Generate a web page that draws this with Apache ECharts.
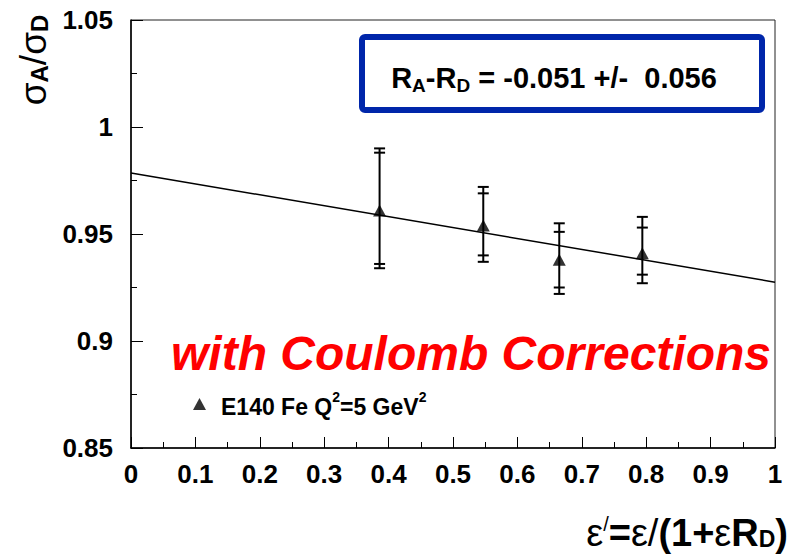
<!DOCTYPE html>
<html>
<head>
<meta charset="utf-8">
<script src="https://cdn.jsdelivr.net/npm/echarts@6/dist/echarts.min.js"></script>
<style>html,body{margin:0;padding:0;background:#fff}#c{width:797px;height:559px}</style>
</head>
<body>
<div id="c"></div>
<script>
// ---- data ----
var xVals = [0.386, 0.547, 0.665, 0.794];
var yVals = [0.961, 0.954, 0.938, 0.941];
var errInnerLow  = [0.936, 0.940, 0.925, 0.931];
var errInnerHigh = [0.988, 0.969, 0.951, 0.953];
var errOuterLow  = [0.934, 0.937, 0.922, 0.927];
var errOuterHigh = [0.990, 0.972, 0.955, 0.958];
var fitX = [0, 1];
var fitY = [0.9785, 0.9275];
var seriesName = 'E140 Fe Q2=5 GeV2';

var FONT = '"Liberation Sans", Arial, Helvetica, sans-serif';

var pts = xVals.map(function (x, i) { return [x, yVals[i]]; });
var errs = xVals.map(function (x, i) {
  return [x, errOuterLow[i], errOuterHigh[i], errInnerLow[i], errInnerHigh[i]];
});
var fit = fitX.map(function (x, i) { return [x, fitY[i]]; });

var chart = echarts.init(document.getElementById('c'), null, { renderer: 'svg' });
chart.setOption({
  animation: false,
  backgroundColor: '#fff',
  grid: { left: 131, right: 22, top: 20, bottom: 111, show: true, borderColor: '#222', borderWidth: 1, backgroundColor: 'transparent' },
  xAxis: {
    type: 'value', min: 0, max: 1, interval: 0.1,
    axisLine: { show: true, onZero: false, lineStyle: { color: '#000', width: 1.5 } },
    axisTick: { show: true, inside: true, length: 11, lineStyle: { color: '#000', width: 1 } },
    minorTick: { show: true, splitNumber: 2, length: 6, lineStyle: { color: '#000', width: 1 } },
    splitLine: { show: false },
    axisLabel: { color: '#000', fontFamily: FONT, fontWeight: 'bold', fontSize: 26, margin: 13,
      formatter: function (v) { return String(+v.toFixed(3)); } }
  },
  yAxis: {
    type: 'value', min: 0.85, max: 1.05, interval: 0.05,
    axisLine: { show: true, onZero: false, lineStyle: { color: '#000', width: 1.5 } },
    axisTick: { show: true, inside: true, length: 12, lineStyle: { color: '#000', width: 1 } },
    minorTick: { show: true, splitNumber: 2, length: 6, lineStyle: { color: '#000', width: 1 } },
    splitLine: { show: false },
    axisLabel: { color: '#000', fontFamily: FONT, fontWeight: 'bold', fontSize: 26, margin: 18,
      formatter: function (v) { return String(+v.toFixed(3)); } }
  },
  legend: {
    show: true, left: 188, top: 385, itemWidth: 13, itemHeight: 12, itemGap: 0,
    data: [{ name: seriesName, icon: 'triangle' }],
    formatter: function () { return '{m|E140 Fe Q}{s|2}{m|=5 GeV}{s|2}'; },
    textStyle: {
      color: '#000', padding: [0, 0, 0, 10],
      rich: {
        m: { fontFamily: FONT, fontWeight: 'bold', fontSize: 23, lineHeight: 28, verticalAlign: 'bottom', color: '#000' },
        s: { fontFamily: FONT, fontWeight: 'bold', fontSize: 14, lineHeight: 14, verticalAlign: 'top', color: '#000' }
      }
    }
  },
  series: [
    {
      type: 'line', data: fit, symbol: 'none', silent: true,
      lineStyle: { color: '#000', width: 1.5 }, z: 2
    },
    {
      type: 'custom', data: errs, silent: true, z: 3,
      renderItem: function (params, api) {
        var x = api.value(0);
        var pLo = api.coord([x, api.value(1)]);
        var pHi = api.coord([x, api.value(2)]);
        var iLo = api.coord([x, api.value(3)]);
        var iHi = api.coord([x, api.value(4)]);
        var hw = 5.5;
        var st = { stroke: '#000', lineWidth: 2 };
        var cap = function (p) {
          return { type: 'line', shape: { x1: p[0] - hw, y1: p[1], x2: p[0] + hw, y2: p[1] }, style: st };
        };
        return {
          type: 'group',
          children: [
            { type: 'line', shape: { x1: pLo[0], y1: pLo[1], x2: pHi[0], y2: pHi[1] }, style: st },
            cap(pLo), cap(pHi), cap(iLo), cap(iHi)
          ]
        };
      }
    },
    {
      name: seriesName, type: 'scatter', data: pts, symbol: 'triangle', symbolSize: [13, 12],
      itemStyle: { color: '#000' }, z: 4
    }
  ],
  graphic: [
    {
      type: 'rect', shape: { x: 362, y: 37, width: 400, height: 73, r: 3 },
      style: { fill: '#fff', stroke: '#0026aa', lineWidth: 6 }, z: 10
    },
    {
      type: 'text', x: 554, y: 79, z: 11,
      style: {
        text: '{m|R}{s|A}{m|-R}{s|D}{m| = -0.051 +/-  0.056}',
        align: 'center', verticalAlign: 'middle',
        rich: {
          m: { fontFamily: FONT, fontWeight: 'bold', fontSize: 29, lineHeight: 32, verticalAlign: 'top', fill: '#000' },
          s: { fontFamily: FONT, fontWeight: 'bold', fontSize: 19, lineHeight: 19, verticalAlign: 'bottom', fill: '#000' }
        }
      }
    },
    {
      type: 'text', x: 171, y: 353, z: 11,
      style: {
        text: 'with Coulomb Corrections',
        font: 'italic bold 48px ' + FONT, fill: '#ff0000',
        align: 'left', verticalAlign: 'middle'
      }
    },
    {
      type: 'text', x: 33, y: 60, rotation: Math.PI / 2, z: 11,
      style: {
        text: '{m|σ}{s|A}{m|/σ}{s|D}',
        align: 'center', verticalAlign: 'middle',
        rich: {
          m: { fontFamily: FONT, fontSize: 37, lineHeight: 36, verticalAlign: 'top', fill: '#000' },
          s: { fontFamily: FONT, fontWeight: 'bold', fontSize: 24, lineHeight: 22, verticalAlign: 'bottom', fill: '#000' }
        }
      }
    },
    {
      type: 'text', x: 788, y: 532, z: 11,
      style: {
        text: '{e|ε}{p|/}{m|=}{e|ε/}{m|(1+}{e|ε}{m|R}{s|D}{m|)}',
        align: 'right', verticalAlign: 'middle',
        rich: {
          e: { fontFamily: FONT, fontSize: 38, lineHeight: 36, verticalAlign: 'top', fill: '#000' },
          m: { fontFamily: FONT, fontWeight: 'bold', fontSize: 38, lineHeight: 36, verticalAlign: 'top', fill: '#000' },
          p: { fontFamily: FONT, fontSize: 20, lineHeight: 20, verticalAlign: 'top', fill: '#000' },
          s: { fontFamily: FONT, fontWeight: 'bold', fontSize: 23, lineHeight: 23, verticalAlign: 'bottom', fill: '#000' }
        }
      }
    }
  ]
});
</script>
</body>
</html>
